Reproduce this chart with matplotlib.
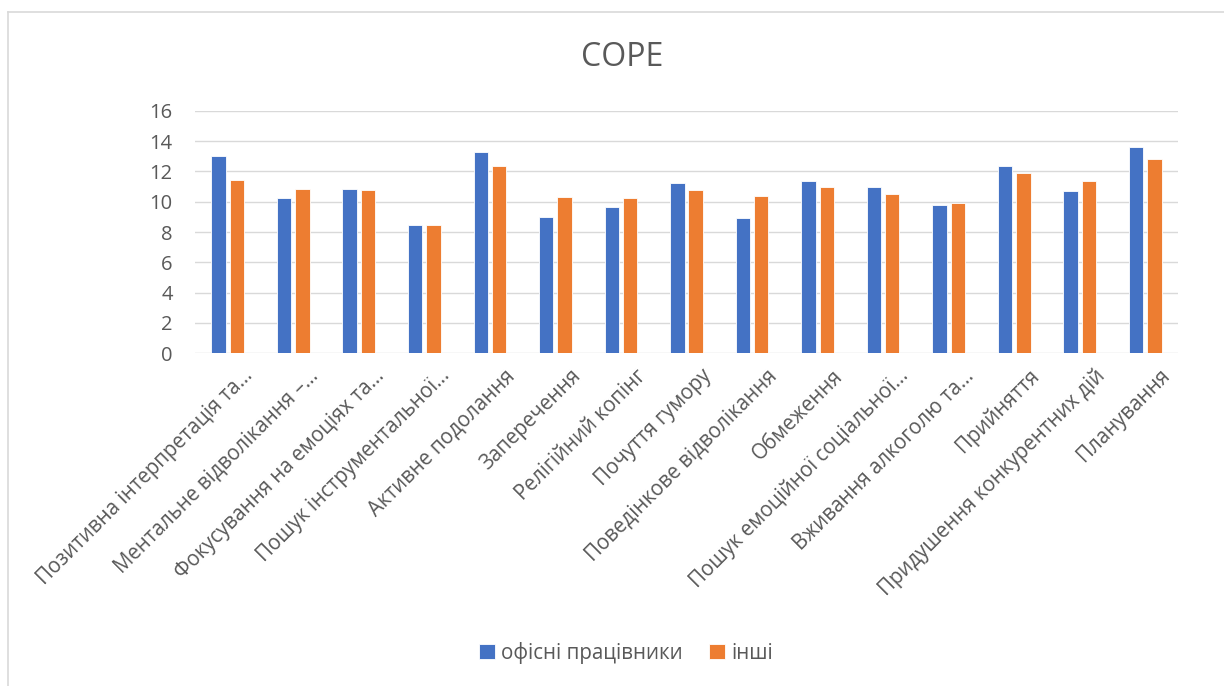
import matplotlib.pyplot as plt
import matplotlib.transforms as mtransforms
import numpy as np

plt.rcParams['font.family'] = ['Open Sans', 'DejaVu Sans']

# дані
categories = [
    "Позитивна інтерпретація та…",
    "Ментальне відволікання –…",
    "Фокусування на емоціях та…",
    "Пошук інструментальної…",
    "Активне подолання",
    "Заперечення",
    "Релігійний копінг",
    "Почуття гумору",
    "Поведінкове відволікання",
    "Обмеження",
    "Пошук емоційної соціальної…",
    "Вживання алкоголю та…",
    "Прийняття",
    "Придушення конкурентних дій",
    "Планування",
]
office = [13.0, 10.26, 10.84, 8.48, 13.25, 9.01, 9.67, 11.23, 8.95, 11.36, 10.97, 9.76, 12.33, 10.73, 13.58]
others = [11.43, 10.84, 10.75, 8.44, 12.33, 10.33, 10.22, 10.77, 10.37, 10.99, 10.48, 9.89, 11.89, 11.36, 12.84]
series_names = ["офісні працівники", "інші"]

blue = "#4472C4"
orange = "#ED7D31"
txt = "#595959"
grid = "#D9D9D9"

fig = plt.figure(figsize=(12.24, 6.86), dpi=100)
ax = fig.add_axes([195 / 1224, 1 - 353.3 / 686, (1178 - 195) / 1224, (353.3 - 110.7) / 686])

x = np.arange(len(categories))
w = 0.22
ax.bar(x - 0.14, office, w, color=blue, edgecolor="white", linewidth=0.6, label=series_names[0], zorder=3)
ax.bar(x + 0.14, others, w, color=orange, edgecolor="white", linewidth=0.6, label=series_names[1], zorder=3)

ax.set_xlim(-0.5, len(categories) - 0.5)
ax.set_ylim(0, 16)
ax.set_yticks(np.arange(0, 17, 2))
ax.grid(axis="y", color=grid, linewidth=1.0, zorder=0)
for s in ax.spines.values():
    s.set_visible(False)

ax.tick_params(axis="y", length=0, pad=16, labelsize=14.5, labelcolor=txt)
ax.tick_params(axis="x", length=0, pad=4, labelsize=14.8, labelcolor=txt)
ax.set_xticks(x)
ax.set_xticklabels(categories, rotation=45, ha="right", va="center", rotation_mode="anchor")
offset = mtransforms.ScaledTranslation(22 / 100, -14 / 100, fig.dpi_scale_trans)
for lab in ax.get_xticklabels():
    lab.set_transform(lab.get_transform() + offset)

fig.text(0.508, 1 - 58 / 686, "COPE", ha="center", va="center", fontsize=23, color=txt)

fig.legend(loc="center", bbox_to_anchor=(626 / 1224, 1 - 653 / 686), ncol=2, frameon=False,
           fontsize=14.8, labelcolor=txt, handlelength=0.75, handleheight=0.75,
           handletextpad=0.3, columnspacing=1.3)

# рамка діаграми
fig.add_artist(plt.Line2D([8 / 1224, 8 / 1224], [0, 1 - 12 / 686], color=grid, linewidth=1.2))
fig.add_artist(plt.Line2D([8 / 1224, 1], [1 - 12 / 686, 1 - 12 / 686], color=grid, linewidth=1.2))

fig.savefig("out.png", dpi=100)
